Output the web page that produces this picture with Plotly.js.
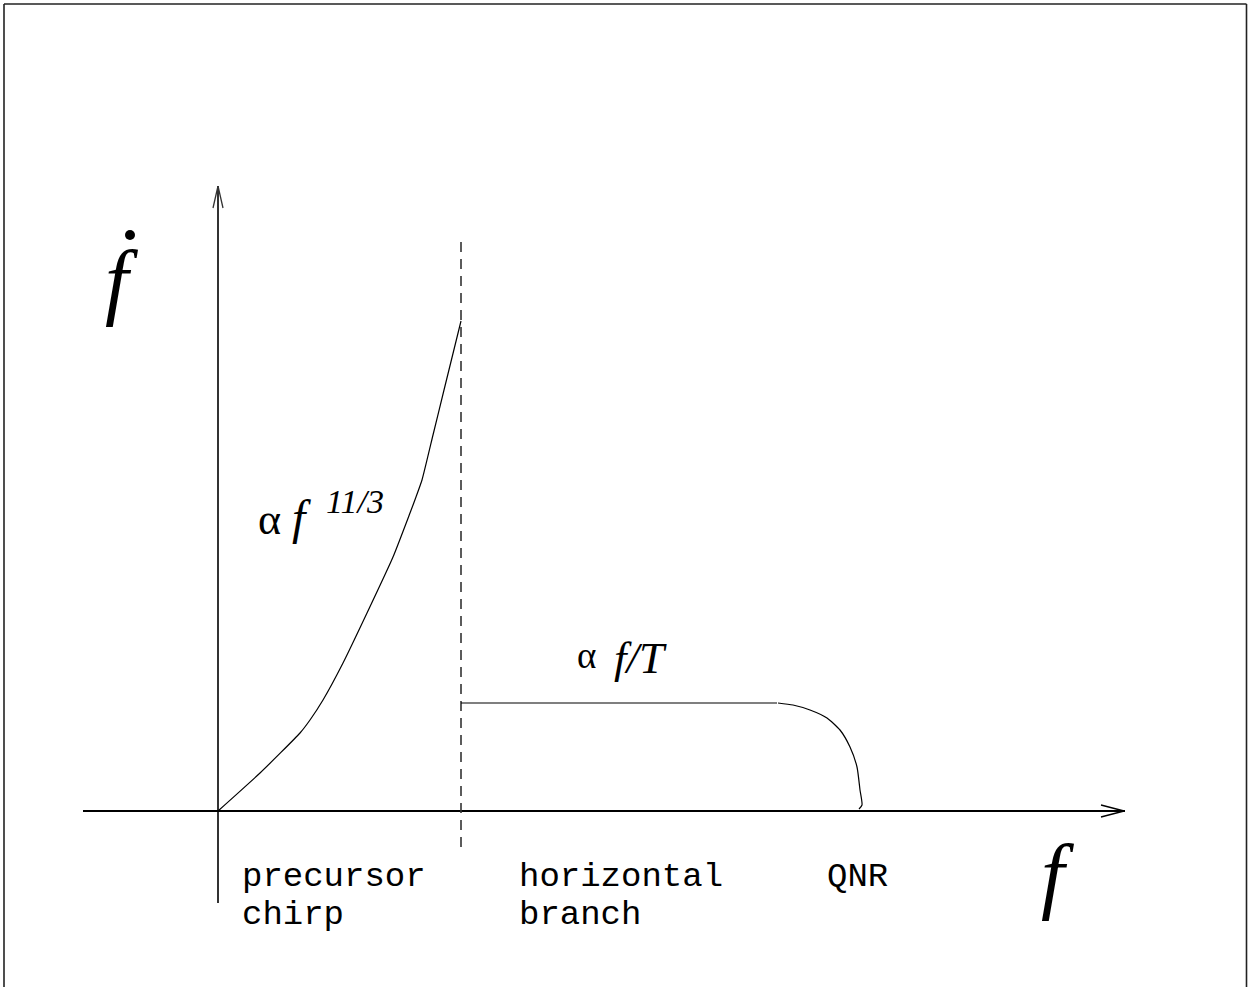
<!DOCTYPE html>
<html>
<head>
<meta charset="utf-8">
<script src="https://cdn.plot.ly/plotly-3.0.1.min.js"></script>
<style>body{margin:0;background:#fff}</style>
</head>
<body>
<div id="chart" style="width:1248px;height:987px"></div>
<script>
// schematic units: 1 unit = 100 px, origin where the two axes cross
var chirpF    = [0, 0.42, 0.82, 0.92, 1.05, 1.25, 1.49, 1.75, 1.92, 1.98, 2.04, 2.15, 2.26, 2.43];
var chirpFdot = [0, 0.38, 0.78, 0.91, 1.11, 1.48, 1.98, 2.54, 2.98, 3.14, 3.31, 3.76, 4.21, 4.90];

var fMerge = 2.43;               // dashed separator position
var sepFdot = [5.69, -0.39];     // its top and bottom

var branchF    = [2.43, 5.59];
var branchFdot = [1.08, 1.08];

var qnrF    = [5.60, 5.75, 5.92, 6.09, 6.22, 6.32, 6.39, 6.42, 6.44, 6.41];
var qnrFdot = [1.08, 1.06, 1.01, 0.93, 0.81, 0.64, 0.44, 0.21, 0.06, 0.02];

var regionLabels = [['precursor', 'chirp'], ['horizontal', 'branch'], ['QNR']];

var xRange = [-1.35, 9.07];
var yRange = [-0.92, 6.25];

// plot area in page pixels, used for placing the text
var L = 83, R = 1125, T = 186, B = 903;
function px(x) { return (x - L) / (R - L); }
function py(y) { return (B - y) / (B - T); }

var thin = {color: '#000', width: 1.2};

var data = [
  {x: chirpF, y: chirpFdot, mode: 'lines', line: {color: '#000', width: 1.2, shape: 'spline', smoothing: 0.5}},
  {x: [fMerge, fMerge], y: sepFdot, mode: 'lines', line: {color: '#333', width: 1.6, dash: '10px,7px'}},
  {x: branchF, y: branchFdot, mode: 'lines', line: thin},
  {x: qnrF, y: qnrFdot, mode: 'lines', line: {color: '#000', width: 1.2, shape: 'spline', smoothing: 0.6}},
  // arrow heads on the axes
  {x: [xRange[1] - 0.24, xRange[1] - 0.01, xRange[1] - 0.24], y: [0.06, 0, -0.06], mode: 'lines', line: {color: '#000', width: 1.3}},
  {x: [-0.05, 0, 0.05], y: [yRange[1] - 0.22, yRange[1], yRange[1] - 0.22], mode: 'lines', line: {color: '#333', width: 1.3}}
];

var serif = 'Liberation Serif, Times New Roman, serif';
var mono = 'Liberation Mono, Courier New, monospace';

function label(text, x, y, size, family, anchor) {
  return {text: text, x: px(x), y: py(y), xref: 'paper', yref: 'paper',
          xanchor: anchor || 'left', yanchor: 'middle', showarrow: false, borderpad: 0,
          font: {family: family, size: size, color: '#000'}};
}

var annotations = [
  label('<i>f</i>', 121.5, 280, 84, serif, 'center'),
  label('\u03b1', 257, 519, 44, serif),
  label('<i>f</i>', 291, 517, 48, serif),
  label('<i>11/3</i>', 325, 501, 34, serif),
  label('\u03b1', 576, 655, 37, serif),
  label('<i>f/T</i>', 613, 658, 45, serif),
  label('<i>f</i>', 1057.5, 874, 84, serif, 'center'),
  label(regionLabels[0][0], 241, 877, 34, mono),
  label(regionLabels[0][1], 241, 915, 34, mono),
  label(regionLabels[1][0], 518, 877, 34, mono),
  label(regionLabels[1][1], 518, 915, 34, mono),
  label(regionLabels[2][0], 826, 877, 34, mono)
];

var frame = {color: '#222', width: 1.6};
var shapes = [
  {type: 'line', xref: 'paper', yref: 'paper', x0: px(4), x1: px(4), y0: py(990), y1: py(4), line: frame},
  {type: 'line', xref: 'paper', yref: 'paper', x0: px(4), x1: px(1246.5), y0: py(4), y1: py(4), line: frame},
  {type: 'line', xref: 'paper', yref: 'paper', x0: px(1246.5), x1: px(1246.5), y0: py(4), y1: py(990), line: frame},
  // dot of f-dot
  {type: 'circle', xref: 'paper', yref: 'paper', x0: px(125), x1: px(135), y0: py(240), y1: py(230),
   fillcolor: '#000', line: {width: 0}}
];

var layout = {
  width: 1248, height: 987, autosize: false,
  margin: {l: L, r: 1248 - R, t: T, b: 987 - B},
  showlegend: false,
  paper_bgcolor: '#fff', plot_bgcolor: '#fff',
  xaxis: {range: xRange, showgrid: false, showticklabels: false, ticks: '', showline: false,
          zeroline: true, zerolinecolor: '#333', zerolinewidth: 1.5},
  yaxis: {range: yRange, showgrid: false, showticklabels: false, ticks: '', showline: false,
          zeroline: true, zerolinecolor: '#000', zerolinewidth: 1.5},
  annotations: annotations,
  shapes: shapes
};

Plotly.newPlot('chart', data, layout, {staticPlot: true, displayModeBar: false});
</script>
</body>
</html>
